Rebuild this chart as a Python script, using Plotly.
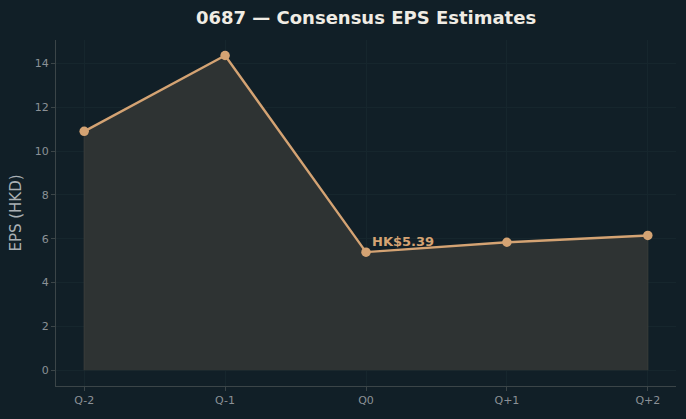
import plotly.graph_objects as go

quarters = ["Q-2", "Q-1", "Q0", "Q+1", "Q+2"]
eps = [10.9, 14.36, 5.39, 5.84, 6.15]
label_text = "HK$5.39"
label_index = 2

BG = "#111f27"
LINE = "#d4a373"
FILL = "#2e3333"
GRID = "#16262d"
SPINE = "#3b4548"
TICK = "#8b9196"
FONT = "DejaVu Sans"

xi = list(range(len(quarters)))

fig = go.Figure()
# filled area (with edge like matplotlib fill_between)
fig.add_trace(go.Scatter(
    x=[xi[0]] + xi + [xi[-1]],
    y=[0] + eps + [0],
    fill="toself", fillcolor=FILL,
    line=dict(color="#3a3e3a", width=1),
    mode="lines", hoverinfo="skip", showlegend=False,
))
fig.add_trace(go.Scatter(
    x=xi, y=eps, mode="lines+markers",
    line=dict(color=LINE, width=2.4),
    marker=dict(color=LINE, size=9.5),
    showlegend=False,
))
fig.add_annotation(
    x=xi[label_index], y=eps[label_index], text=f"<b>{label_text}</b>",
    showarrow=False, xanchor="left", yanchor="bottom",
    xshift=4, yshift=1,
    font=dict(family=FONT, size=13, color=LINE),
)

fig.update_layout(
    width=686, height=419,
    paper_bgcolor=BG, plot_bgcolor=BG,
    margin=dict(l=56, r=10, t=40, b=33),
    title=dict(text="<b>0687 — Consensus EPS Estimates</b>", x=0.5, xanchor="center",
               xref="paper",
               y=1 - 18 / 419, yanchor="middle",
               font=dict(family=FONT, size=18, color="#f0ece4")),
    font=dict(family=FONT, color=TICK),
)
fig.update_xaxes(
    range=[-0.2, 4.2], tickmode="array", tickvals=xi, ticktext=quarters,
    showgrid=True, gridcolor=GRID, gridwidth=1,
    showline=True, linecolor=SPINE, linewidth=1,
    ticks="outside", ticklen=4, tickcolor=SPINE,
    tickfont=dict(family=FONT, size=11, color=TICK),
    zeroline=False,
)
fig.update_yaxes(
    range=[-0.7175, 15.0675], tickmode="array", tickvals=[0, 2, 4, 6, 8, 10, 12, 14],
    showgrid=True, gridcolor=GRID, gridwidth=1,
    showline=True, linecolor=SPINE, linewidth=1,
    ticks="outside", ticklen=4, tickcolor=SPINE,
    tickfont=dict(family=FONT, size=11, color=TICK),
    title=dict(text="EPS (HKD)", font=dict(family=FONT, size=15, color="#aab0b4"), standoff=9),
    zeroline=False,
)

fig.write_html("out.html")
